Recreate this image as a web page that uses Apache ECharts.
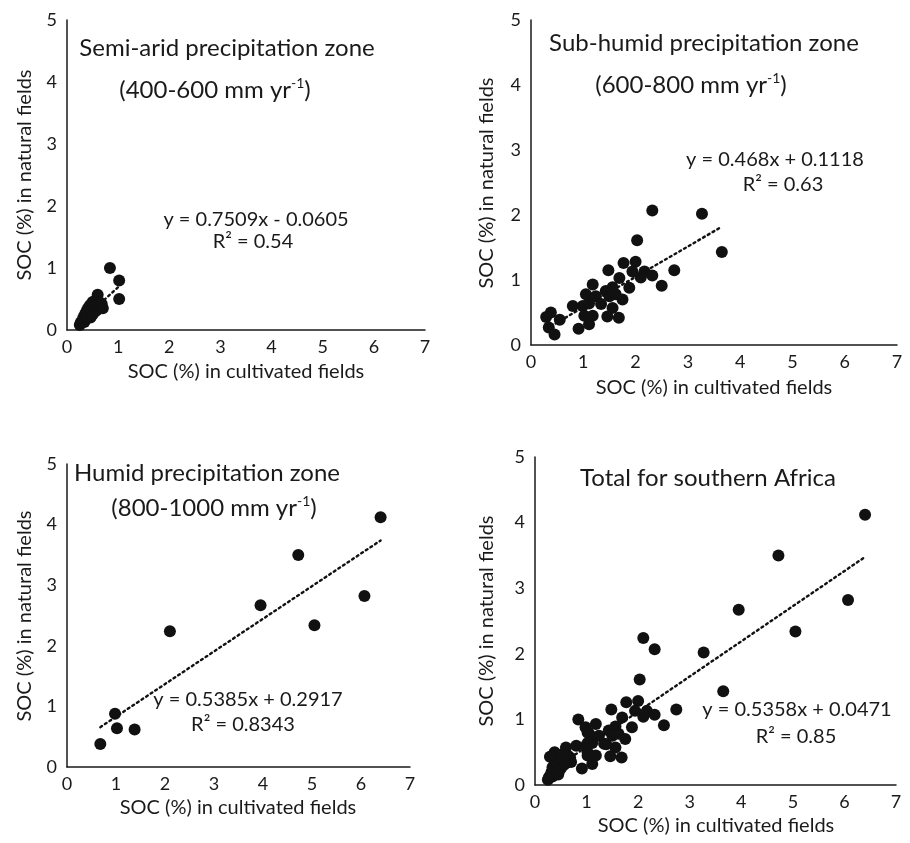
<!DOCTYPE html>
<html>
<head>
<meta charset="utf-8">
<script src="https://cdn.jsdelivr.net/npm/echarts@6/dist/echarts.min.js"></script>
<style>
html,body{margin:0;background:#fff}
#main{width:910px;height:843px}
</style>
</head>
<body>
<div id="main"></div>
<script>
// SOC (%) cultivated vs natural
var semiArid = [
	[0.25,0.08],[0.27,0.12],[0.3,0.15],[0.32,0.2],[0.34,0.13],[0.35,0.25],[0.37,0.18],
	[0.38,0.3],[0.4,0.22],[0.41,0.35],[0.43,0.28],[0.45,0.4],[0.46,0.2],[0.48,0.33],
	[0.5,0.45],[0.5,0.25],[0.52,0.38],[0.55,0.3],[0.56,0.48],[0.58,0.4],[0.6,0.57],
	[0.6,0.33],[0.63,0.45],[0.65,0.38],[0.68,0.42],[0.7,0.35],[0.84,1.0],[1.02,0.8],[1.02,0.5]
]
var subHumid = [
	[2.32,2.07],[3.27,2.02],[2.03,1.61],[1.77,1.26],[2.0,1.28],[1.48,1.15],[1.94,1.13],
	[2.17,1.13],[2.1,1.04],[2.32,1.07],[2.74,1.15],[2.5,0.91],[1.69,1.03],[1.56,0.89],
	[1.88,0.88],[1.18,0.93],[1.43,0.83],[1.05,0.78],[1.24,0.75],[1.5,0.75],[1.75,0.7],
	[1.62,0.78],[0.8,0.6],[0.99,0.6],[1.11,0.64],[1.34,0.63],[1.56,0.57],[1.02,0.45],
	[1.18,0.45],[1.46,0.44],[1.68,0.42],[1.11,0.32],[0.91,0.25],[0.38,0.5],[0.29,0.43],
	[0.55,0.39],[0.34,0.27],[0.45,0.16],[3.65,1.43]
]
var humid = [
	[0.68,0.38],[0.98,0.88],[1.02,0.64],[1.38,0.62],[2.1,2.24],[3.95,2.67],
	[4.72,3.5],[5.05,2.34],[6.07,2.82],[6.4,4.12]
]
var total = semiArid.concat(subHumid, humid)

// fitted lines as printed on the panels: [slope, intercept, xFrom, xTo]
var fits = [
	[0.7509, -0.0605, 0.25, 1.02],
	[0.468, 0.1118, 0.29, 3.65],
	[0.5385, 0.2917, 0.68, 6.4],
	[0.5358, 0.0471, 0.25, 6.4]
]
var eqText = [
	['y = 0.7509x - 0.0605', 'R² = 0.54'],
	['y = 0.468x + 0.1118', 'R² = 0.63'],
	['y = 0.5385x + 0.2917', 'R² = 0.8343'],
	['y = 0.5358x + 0.0471', 'R² = 0.85']
]
var titles = [
	['Semi-arid precipitation zone', '400-600'],
	['Sub-humid precipitation zone', '600-800'],
	['Humid precipitation zone', '800-1000'],
	['Total for southern Africa', '']
]
var xName = 'SOC (%) in cultivated fields'
var yName = 'SOC (%) in natural fields'

var font = 'Lato, "Open Sans", sans-serif'
var ink = '#1a1a1a'

// panel boxes (px)
var grids = [
	{left: 67, top: 20, width: 358, height: 310},
	{left: 531, top: 20, width: 366, height: 325},
	{left: 67, top: 464, width: 343, height: 303},
	{left: 535, top: 457, width: 361, height: 328}
]
// text placement per panel
var titlePos = [[227, 48, 215, 90], [704, 43, 691, 85], [207, 473, 214, 508], [708, 478, 0, 0]]
var eqPos = [[256, 220, 253, 242], [775, 160, 783, 185], [248, 700, 243, 725], [797, 710, 796, 737]]
var xNamePos = [[246, 372], [714, 388], [238, 808], [716, 826]]
var yNamePos = [[25, 175], [487, 183], [25, 616], [487, 621]]

var datasets = [semiArid, subHumid, humid, total]

var xAxis = [], yAxis = [], series = [], graphic = []
for (var i = 0; i < 4; i++) {
	xAxis.push({
		gridIndex: i, type: 'value', min: 0, max: 7, interval: 1,
		axisLine: {show: true, onZero: false, lineStyle: {color: ink, width: 1.5}},
		axisTick: {show: false}, splitLine: {show: false},
		axisLabel: {color: ink, fontSize: 18, fontFamily: font, margin: 8}
	})
	yAxis.push({
		gridIndex: i, type: 'value', min: 0, max: 5, interval: 1,
		axisLine: {show: true, onZero: false, lineStyle: {color: ink, width: 1.5}},
		axisTick: {show: false}, splitLine: {show: false},
		axisLabel: {color: ink, fontSize: 18, fontFamily: font, margin: 10}
	})
	series.push({
		type: 'scatter', xAxisIndex: i, yAxisIndex: i,
		data: datasets[i], symbolSize: 12,
		itemStyle: {color: '#111', opacity: 1}
	})
	var f = fits[i]
	series.push({
		type: 'line', xAxisIndex: i, yAxisIndex: i, symbol: 'none', z: 3,
		data: [[f[2], f[0] * f[2] + f[1]], [f[3], f[0] * f[3] + f[1]]],
		lineStyle: {color: '#111', width: 2.4, type: [2, 3.5], cap: 'round'}
	})

	var tp = titlePos[i]
	graphic.push({
		type: 'text', x: tp[0], y: tp[1],
		style: {text: titles[i][0], font: '24px ' + font, fill: ink, align: 'center', verticalAlign: 'middle'}
	})
	if (titles[i][1]) {
		graphic.push({
			type: 'text', x: tp[2], y: tp[3],
			style: {
				text: '{a|(' + titles[i][1] + ' mm yr}{s|-1}{a|)}',
				align: 'center', verticalAlign: 'middle',
				rich: {
					a: {font: '24px ' + font, fill: ink},
					s: {font: '14px ' + font, fill: ink, padding: [0, 0, 13, 0]}
				}
			}
		})
	}
	var ep = eqPos[i]
	graphic.push({
		type: 'text', x: ep[0], y: ep[1],
		style: {text: eqText[i][0], font: '20px ' + font, fill: ink, align: 'center', verticalAlign: 'middle'}
	})
	graphic.push({
		type: 'text', x: ep[2], y: ep[3],
		style: {text: eqText[i][1], font: '20px ' + font, fill: ink, align: 'center', verticalAlign: 'middle'}
	})
	graphic.push({
		type: 'text', x: xNamePos[i][0], y: xNamePos[i][1],
		style: {text: xName, font: '20px ' + font, fill: ink, align: 'center', verticalAlign: 'middle'}
	})
	graphic.push({
		type: 'text', x: yNamePos[i][0], y: yNamePos[i][1], rotation: Math.PI / 2,
		style: {text: yName, font: '20px ' + font, fill: ink, align: 'center', verticalAlign: 'middle'}
	})
}

var chart = echarts.init(document.getElementById('main'))
chart.setOption({
	animation: false,
	backgroundColor: '#fff',
	grid: grids,
	xAxis: xAxis,
	yAxis: yAxis,
	series: series,
	graphic: graphic
})
</script>
</body>
</html>
